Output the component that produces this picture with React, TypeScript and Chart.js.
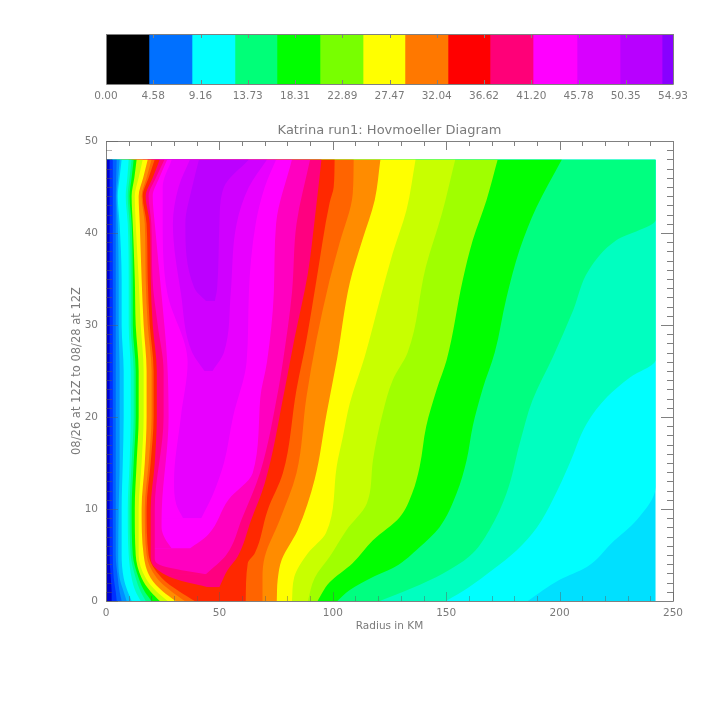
import React, { useEffect, useRef } from "react";
import { Chart, registerables } from "chart.js";

Chart.register(...registerables);

const FONT = "'DejaVu Sans', sans-serif";
const INK = "#7a7a7a";
const FRAME = "#808080";
const FAINT = "rgba(90,90,90,0.45)";

// colour bar
const barLabels = [0, 4.58, 9.16, 13.73, 18.31, 22.89, 27.47, 32.04, 36.62, 41.2, 45.78, 50.35, 54.93];
const barEdges = [0, 4.16, 8.33, 12.49, 16.56, 20.73, 24.9, 28.96, 33.13, 37.2, 41.37, 45.63, 49.8, 53.87, 54.93];
const barColors = ["#000000", "#0070ff", "#00ffff", "#00ff78", "#00ff00", "#78ff00", "#ffff00", "#ff7800", "#ff0000", "#ff0078", "#ff00ff", "#d800ff", "#b800ff", "#8800ff"];

// contours as [radius km, time h]
const rEdge = [[242.3, 0], [242.3, 48]];
const outerA = [[186, 0], [200, 2.3], [212, 3.7], [223, 6.3], [234, 8.8], [242.3, 12.4], [242.3, 48]];
const outerB = [[150, 0], [160, 1.5], [170.5, 3.4], [181, 5.5], [190, 8], [197, 11], [204.5, 15], [212, 19.3], [221, 22.2], [231, 24.3], [242.3, 26.2], [242.3, 48]];
const outerC = [[120.7, 0], [135, 1.4], [148.6, 3], [160, 4.8], [169, 7.7], [176.6, 11.7], [182.5, 17.2], [188, 21.8], [197, 26.5], [206, 31.6], [213, 36], [225, 39.2], [242.3, 41.4], [242.3, 48]];
const outerD = [[102, 0], [107.5, 1.2], [117.7, 2.6], [127.3, 3.7], [138, 5.8], [147, 8], [154.6, 11.7], [159, 15.3], [161.7, 19], [166, 23], [171.4, 27], [176.6, 33], [182.4, 38.2], [189.8, 42.8], [201, 48]];
const outerE = [[93.3, 0], [98.5, 2], [108.7, 4.1], [117.7, 6.6], [129.5, 9.1], [135, 11.7], [138.3, 14.6], [141.2, 19], [145.8, 23], [150.2, 26.2], [157.3, 34.9], [161.7, 39.2], [167.8, 43.6], [172.7, 48]];
const outerF = [[89, 0], [92, 2.5], [98.6, 4.8], [106, 7.7], [115, 10.6], [117.7, 15.3], [122, 20.4], [126.4, 24], [133, 27], [141, 36.3], [148, 42], [154, 48]];
const outerG = [[82, 0], [83, 2.6], [89, 5.2], [97, 7.4], [101.7, 14.6], [104.4, 17.8], [107.5, 21.5], [114, 26.5], [120.7, 32.7], [126.4, 37.8], [132.5, 42.5], [136.5, 48]];
const outerH = [[75.3, 0], [75.7, 2.3], [77.5, 4.5], [84.5, 7.7], [92, 13.2], [97.3, 20.4], [102, 26.5], [107.5, 34.6], [113, 39.2], [118.5, 43.6], [121, 48]];
const outerI = [[69, 0], [69, 2.6], [70, 4.8], [76.6, 8.8], [84, 13.9], [88.4, 22.2], [92.8, 28.4], [98.6, 34.9], [103, 38.9], [108.8, 44.3], [109.2, 48]];
const outerJ = [[61.6, 0], [62.5, 4.1], [65.6, 5.2], [71.3, 9.9], [78, 13.9], [84, 23], [88.4, 28.4], [92.8, 34.9], [98.6, 43.3], [100.4, 45], [100.8, 48]];

// bowl of the wind maximum: right and left branches
const pinkR = [[50, 1.5], [53.7, 3.4], [58, 4.8], [64, 8.8], [70, 12.8], [78.8, 23], [83, 28.4], [89, 35.6], [92, 41.4], [95, 48]];
const pinkL = [[46.6, 1.4], [31.6, 2.3], [21.4, 3.7], [19.7, 5], [19.7, 10], [21.5, 15], [22.4, 20], [22.4, 25], [20.6, 30], [19.7, 35], [19.3, 41], [17.5, 44], [20.6, 46], [23.7, 48]];
const roseR = [[44, 2.9], [53, 5], [60, 9], [68, 14], [76, 23], [78, 26], [82, 33.5], [84, 41], [90, 48]];
const roseL = [[44, 2.9], [25, 3.8], [21.5, 4.7], [21.5, 10], [25.4, 20], [25.4, 25], [22.8, 30], [20.5, 35], [20, 41], [18.8, 44], [22, 46], [25.8, 48]];
const magentaR = [[37, 5.7], [45, 7.2], [54, 11], [64.7, 13.9], [68, 22], [71, 26], [74, 33.5], [75, 41], [82, 48]];
const magentaL = [[29, 5.7], [26, 6.8], [24.5, 8], [24.6, 10], [27.6, 20], [27, 26], [24.6, 33], [21.5, 41], [20.6, 44], [23.5, 46], [27, 48]];
const violetR = [[42, 9], [47, 11.5], [52, 15], [56, 20], [62, 26], [63, 33.5], [66, 41], [70, 45], [75, 48]];
const violetL = [[34, 9], [31, 10.5], [30, 13], [33, 20], [36, 26], [27, 33.5], [25, 41], [25, 45], [29, 48]];
const purpleR = [[47, 25], [52, 27], [55, 33.5], [57.6, 41], [63, 45], [71, 48]];
const purpleL = [[44, 24.8], [38, 27], [33, 33.5], [29.5, 41], [32, 45], [37, 48]];
const deepR = [[48, 32.6], [49, 34], [50, 41], [52, 45], [63, 48]];
const deepL = [[45, 32.4], [39, 34], [35, 41], [38, 45], [41, 48]];

// inner flank, common times
const innerT = [0, 1, 2.5, 5, 10, 15, 20, 25, 30, 35, 41, 44, 46, 48];
const inner12 = [39.1, 32.5, 24.6, 18.8, 17.9, 19.7, 21, 21, 19.3, 18.4, 17.9, 16.2, 18.8, 21.5];
const inner11 = [34.7, 29, 22.4, 17.9, 17.1, 18.8, 20.1, 20.1, 18.4, 17.5, 17.1, 15.7, 17.9, 20.1];
const inner10 = [30.7, 25.2, 19.7, 16.6, 15.7, 17.1, 17.9, 17.9, 16.6, 15.7, 14.9, 14.4, 16.4, 18.4];
const inner9 = [27.2, 22.4, 17.5, 14.4, 14.4, 15.7, 16.6, 16.6, 15.3, 14.4, 13.1, 12.7, 14.4, 16.2];
const inner8 = [23.7, 19.7, 15.7, 13.1, 12.7, 13.5, 14.4, 14.4, 13.1, 12.7, 11.8, 11.3, 12.5, 13.5];
const inner7 = [20.1, 17.1, 14.4, 11.8, 11.3, 12.2, 13.1, 13.1, 11.8, 11.8, 11.3, 10.4, 11.3, 12.2];
const inner6 = [17.5, 15.3, 13.1, 10.9, 10.4, 11.3, 12.2, 12.2, 10.9, 10.9, 10.4, 9.6, 10.4, 11.3];
const inner5 = [15.3, 13.1, 11.3, 10, 9.6, 10.4, 10.9, 10.9, 10, 10, 9.6, 8.7, 9.4, 10];
const inner4 = [11.3, 9.6, 7.8, 6.9, 6.9, 7.4, 7.8, 7.8, 6.9, 6.9, 6, 5.2, 6, 6.9];
const inner3 = [9.1, 7.8, 6, 5.4, 5.6, 6, 6, 6, 5.6, 5.6, 5.2, 4.7, 5.4, 6];
const inner2 = [6.9, 6, 5.2, 4.3, 4.3, 4.3, 4.3, 4.3, 4.3, 4.3, 4.3, 4.3, 4.5, 4.7];
const inner1 = [4.7, 4.3, 3.4, 3, 3, 3, 3, 3, 3, 3, 3, 3, 3, 3];
const inner0 = [2.5, 2.5, 2.1, 1.6, 1.6, 1.6, 1.6, 1.6, 1.6, 1.6, 1.6, 1.6, 1.6, 1.6];

const withT = (r: number[]) => r.map((v, i) => [v, innerT[i]]);

// painted first to last; each layer fills everything left of its contour
const layers: [number[][], string][] = [
  [rEdge, "#00e0ff"],
  [outerA, "#00ffff"],
  [outerB, "#00ffc0"],
  [outerC, "#00ff80"],
  [outerD, "#00ff00"],
  [outerE, "#a0ff00"],
  [outerF, "#c8ff00"],
  [outerG, "#ffff00"],
  [outerH, "#ff8c00"],
  [outerI, "#ff6400"],
  [outerJ, "#ff2800"],
  [pinkR, "#ff0080"],
  [roseR, "#ff00c0"],
  [magentaR, "#ff00ff"],
  [violetR, "#e800ff"],
  [purpleR, "#d000ff"],
  [deepR, "#bc00ff"],
  [deepL, "#d000ff"],
  [purpleL, "#e800ff"],
  [violetL, "#ff00ff"],
  [magentaL, "#ff00c0"],
  [roseL, "#ff0080"],
  [pinkL, "#ff2800"],
  [withT(inner12), "#ff6400"],
  [withT(inner11), "#ff8c00"],
  [withT(inner10), "#ffff00"],
  [withT(inner9), "#c8ff00"],
  [withT(inner8), "#00ff00"],
  [withT(inner7), "#00ff80"],
  [withT(inner6), "#00ffc0"],
  [withT(inner5), "#00ffff"],
  [withT(inner4), "#00c0ff"],
  [withT(inner3), "#0090ff"],
  [withT(inner2), "#0060ff"],
  [withT(inner1), "#0030ff"],
  [withT(inner0), "#0000d0"],
];

const frameTicks = (xLen: (v: number) => number, yLen: (v: number) => number, faintBottom: boolean) => ({
  id: "frameTicks",
  afterDraw(chart: any) {
    const { ctx, chartArea: a, scales } = chart;
    const px = (v: number) => Math.round(v) + 0.5;
    ctx.save();
    ctx.lineWidth = 1;
    ctx.strokeStyle = FRAME;
    ctx.beginPath();
    ctx.rect(px(a.left), px(a.top), Math.round(a.right) - Math.round(a.left), Math.round(a.bottom) - Math.round(a.top));
    for (const t of scales.x.ticks) {
      const x = px(scales.x.getPixelForValue(t.value));
      const l = xLen(t.value);
      ctx.moveTo(x, a.top);
      ctx.lineTo(x, a.top + l);
      if (!faintBottom) {
        ctx.moveTo(x, a.bottom);
        ctx.lineTo(x, a.bottom - l);
      }
    }
    if (scales.y.type === "linear") {
      for (const t of scales.y.ticks) {
        const y = px(scales.y.getPixelForValue(t.value));
        const l = yLen(t.value);
        ctx.moveTo(a.right, y);
        ctx.lineTo(a.right - l, y);
      }
    }
    ctx.stroke();
    if (faintBottom) {
      ctx.strokeStyle = FAINT;
      ctx.beginPath();
      for (const t of scales.x.ticks) {
        const x = px(scales.x.getPixelForValue(t.value));
        ctx.moveTo(x, a.bottom);
        ctx.lineTo(x, a.bottom - xLen(t.value));
      }
      for (const t of scales.y.ticks) {
        const y = px(scales.y.getPixelForValue(t.value));
        ctx.moveTo(a.left, y);
        ctx.lineTo(a.left + yLen(t.value), y);
      }
      ctx.stroke();
    }
    ctx.restore();
  },
});

export default function App() {
  const mainRef = useRef<HTMLCanvasElement>(null);
  const barRef = useRef<HTMLCanvasElement>(null);

  useEffect(() => {
    const tickFont = { family: FONT, size: 10.5 };
    const main = new Chart(mainRef.current as HTMLCanvasElement, {
      type: "line",
      data: {
        datasets: layers.map(([pts, color], i) => ({
          data: pts.map(([x, y]) => ({ x, y })),
          indexAxis: "y",
          order: layers.length - i,
          borderWidth: 0,
          borderColor: color,
          backgroundColor: color,
          pointRadius: 0,
          cubicInterpolationMode: "monotone",
          fill: "origin",
        })),
      } as any,
      options: {
        indexAxis: "y",
        responsive: false,
        animation: false,
        layout: { padding: { left: 70, right: 35, top: 0, bottom: 72 } },
        plugins: {
          legend: { display: false },
          tooltip: { enabled: false },
          title: {
            display: true,
            text: "Katrina run1: Hovmoeller Diagram",
            fullSize: false,
            color: INK,
            font: { family: FONT, size: 13, weight: "normal" },
            padding: { top: 123, bottom: 2.4 },
          },
        },
        scales: {
          x: {
            type: "linear",
            min: 0,
            max: 250,
            grid: { display: false, drawTicks: false },
            border: { display: false },
            ticks: {
              stepSize: 10,
              autoSkip: false,
              maxRotation: 0,
              padding: 6,
              color: INK,
              font: tickFont,
              callback: (v: any) => (Number(v) % 50 === 0 ? String(v) : ""),
            },
            title: {
              display: true,
              text: "Radius in KM",
              color: INK,
              font: { family: FONT, size: 10.5 },
              padding: { top: 0, bottom: 3 },
            },
            afterFit: (s: any) => {
              s.height = 35;
            },
          },
          y: {
            type: "linear",
            min: 0,
            max: 50,
            grid: { display: false, drawTicks: false },
            border: { display: false },
            ticks: {
              stepSize: 1,
              autoSkip: false,
              padding: 8,
              color: INK,
              font: tickFont,
              callback: (v: any) => (Number(v) % 10 === 0 ? String(v) : ""),
            },
            title: {
              display: true,
              text: "08/26 at 12Z to 08/28 at 12Z",
              color: INK,
              font: { family: FONT, size: 11.5 },
              padding: 0,
            },
            afterFit: (s: any) => {
              s.width = 36;
            },
          },
        },
      } as any,
      plugins: [frameTicks((v) => (v % 50 === 0 ? 9 : 5), (v) => (v % 10 === 0 ? 12 : 6), true)],
    });

    const bar = new Chart(barRef.current as HTMLCanvasElement, {
      type: "bar",
      data: {
        labels: ["scale"],
        datasets: barColors.map((color, i) => ({
          data: [[barEdges[i], barEdges[i + 1]]],
          backgroundColor: color,
          borderWidth: 0,
          barPercentage: 1,
          categoryPercentage: 1,
          grouped: false,
        })),
      } as any,
      options: {
        indexAxis: "y",
        responsive: false,
        animation: false,
        layout: { padding: { left: 106, right: 35, top: 34, bottom: 16 } },
        plugins: { legend: { display: false }, tooltip: { enabled: false } },
        scales: {
          x: {
            type: "linear",
            min: 0,
            max: 54.93,
            grid: { display: false, drawTicks: false },
            border: { display: false },
            afterBuildTicks: (s: any) => {
              s.ticks = barLabels.map((value) => ({ value }));
            },
            ticks: {
              autoSkip: false,
              maxRotation: 0,
              padding: 6,
              color: INK,
              font: tickFont,
              callback: (v: any) => Number(v).toFixed(2),
            },
            afterFit: (s: any) => {
              s.height = 20;
            },
          },
          y: {
            type: "category",
            grid: { display: false, drawTicks: false },
            border: { display: false },
            ticks: { display: false },
            afterFit: (s: any) => {
              s.width = 0;
            },
          },
        },
      } as any,
      plugins: [frameTicks(() => 4, () => 0, false)],
    });

    return () => {
      main.destroy();
      bar.destroy();
    };
  }, []);

  return (
    <div style={{ position: "absolute", left: 0, top: 0, width: 708, height: 708 }}>
      <canvas ref={mainRef} width={708} height={708} style={{ position: "absolute", left: 0, top: 0 }} />
      <canvas ref={barRef} width={708} height={120} style={{ position: "absolute", left: 0, top: 0 }} />
    </div>
  );
}
